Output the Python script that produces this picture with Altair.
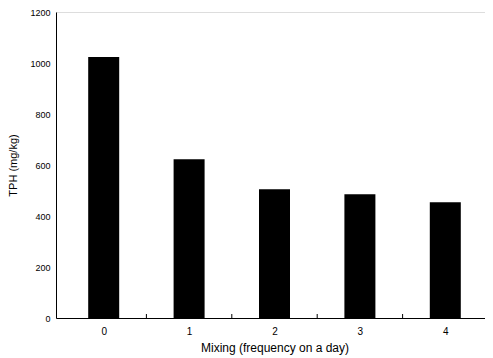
import altair as alt
import pandas as pd

mixing = [0, 1, 2, 3, 4]
tph = [1024, 623, 505, 485, 454]
y_ticks = [0, 200, 400, 600, 800, 1000, 1200]

df = pd.DataFrame({"mixing": mixing, "tph": tph})
bounds = pd.DataFrame({"b": [m + 0.5 for m in mixing[:-1]]})

font = "Liberation Sans"

x = alt.X(
    "mixing:Q",
    scale=alt.Scale(domain=[mixing[0] - 0.5, mixing[-1] + 0.5], nice=False, zero=False),
    axis=alt.Axis(
        values=mixing, format="d", title="Mixing (frequency on a day)",
        ticks=False, grid=False, domainColor="black", labelColor="black",
        labelFont=font, labelFontSize=10, labelPadding=8,
        titleFont=font, titleFontSize=12, titleFontWeight="normal",
        titleColor="black", titlePadding=6,
    ),
)
y = alt.Y(
    "tph:Q",
    scale=alt.Scale(domain=[0, 1200], nice=False),
    axis=alt.Axis(
        values=y_ticks, format="d", title="TPH (mg/kg)", ticks=False, grid=False,
        domainColor="black", labelColor="black", labelFont=font,
        labelFontSize=9, labelPadding=6,
        titleFont=font, titleFontSize=11, titleFontWeight="normal",
        titleColor="black", titlePadding=11,
    ),
)

bars = alt.Chart(df).mark_bar(color="black", size=31).encode(x=x, y=y)

ticks = alt.Chart(bounds).mark_rule(color="black", strokeWidth=1).encode(
    x=alt.X("b:Q"),
    y=alt.value(306),
    y2=alt.value(302),
)

chart = alt.layer(bars, ticks).properties(
    width=437, height=306,
    autosize=alt.AutoSizeParams(type="none"),
    padding={"left": 48, "top": 4, "right": -8, "bottom": 38},
).configure_view(stroke="black", strokeWidth=1).configure(background="white")

chart.save("out.html", embed_options={"renderer": "svg", "actions": False})
